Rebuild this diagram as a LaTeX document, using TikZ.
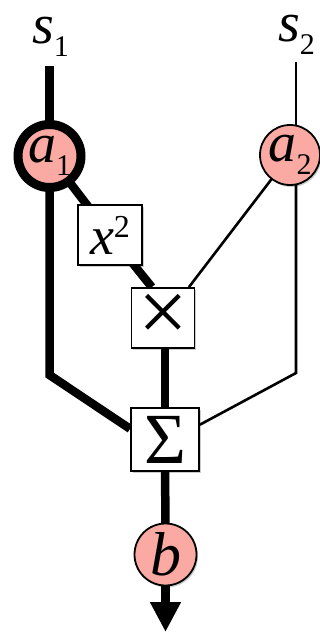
\documentclass[tikz,border=0pt]{standalone}
\usepackage{fontspec}
\setmainfont{Liberation Serif}
\usetikzlibrary{arrows.meta,shadows,calc}
\definecolor{nodepink}{RGB}{250,170,163}
\pgfdeclarelayer{bg}
\pgfsetlayers{bg,main}
\newcommand{\fsz}[1]{\fontsize{#1}{#1}\selectfont}
\newcommand{\varsub}[2]{{\fsz{56}\itshape #1}\raisebox{-13pt}{\fsz{30}#2}}
\begin{document}
\begin{tikzpicture}[x=1pt,y=-1pt,
  shad/.style={drop shadow={shadow xshift=1.5pt,shadow yshift=-2pt,opacity=0.2,fill=black}},
  opbox/.style={rectangle,draw=black,line width=1.8pt,fill=white,inner sep=0pt,shad},
  varnode/.style={circle,draw=black,line width=1.8pt,fill=nodepink,inner sep=0pt,minimum size=62pt,shad},
  heavy/.style={line width=8.5pt},
  thinline/.style={line width=2.6pt},
  lbl/.style={inner sep=0pt}
]
\useasboundingbox (0,0) rectangle (320,634);

% labels
\node[lbl] (s1lab) at (50.5,37) {\varsub{s}{1}};
\node[lbl] (s2lab) at (296.5,35) {\varsub{s}{2}};

% nodes
\node[varnode,line width=9pt,minimum size=63pt] (a1) at (49.5,156) {\varsub{a}{1}};
\node[varnode,minimum size=60pt] (a2) at (290,155) {\varsub{a}{2}};
\node[opbox,minimum width=64pt,minimum height=60pt] (sq) at (110,235)
  {{\fsz{54}\itshape x}\raisebox{17pt}{\fsz{32}2}};
\node[opbox,minimum width=63pt,minimum height=60pt] (mul) at (163,318) {\fsz{88}×};
\node[opbox,minimum width=68pt,minimum height=63pt] (sum) at (165,439.5) {\fsz{72}Σ};
\node[varnode,minimum size=62pt] (b) at (165.5,554.5) {\fsz{62}\itshape b};

% free ends and bends
\coordinate (s1top) at (49.5,66);
\coordinate (s2top) at (296,62);
\coordinate (bendL) at (49.5,375);
\coordinate (bendR) at (296,373);
\coordinate (tip) at (165.5,632);

\begin{pgfonlayer}{bg}
  \draw[heavy] (s1top) -- (a1.center);
  \draw[heavy] (a1.center) -- (sq.center) -- (mul.110);
  \draw[heavy] (a1.center) -- (bendL) -- (sum.163);
  \draw[heavy] (mul.south -| sum.north) -- (sum.north);
  \draw[heavy] (sum.center) -- (b.center);
  \draw[heavy,-{Triangle[length=30pt,width=29pt]}] (b.center) -- (tip);
  \draw[thinline] (s2top) -- (s2top |- a2.center);
  \draw[thinline] (a2.center -| bendR) -- (bendR) -- (sum.23);
  \draw[thinline] (a2.center) -- (mul.50);
\end{pgfonlayer}
\end{tikzpicture}
\end{document}
